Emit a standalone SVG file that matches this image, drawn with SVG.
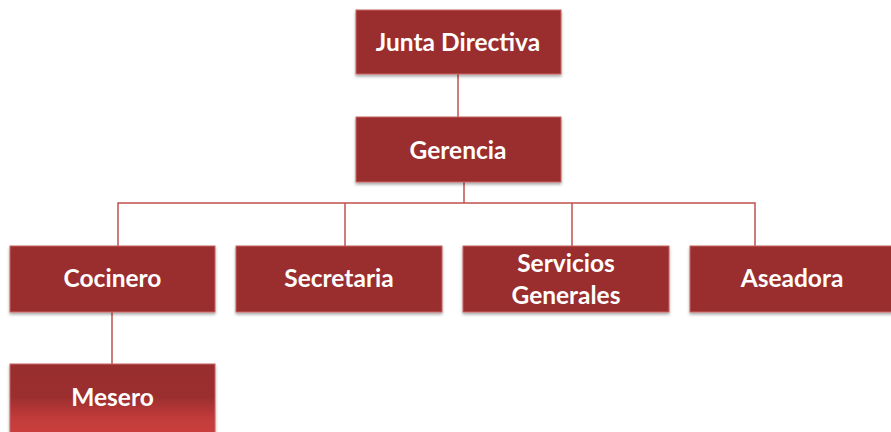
<svg xmlns="http://www.w3.org/2000/svg" width="891" height="432" viewBox="0 0 891 432">
<defs>
<filter id="sh" x="-10%" y="-10%" width="120%" height="130%">
<feDropShadow dx="0" dy="2" stdDeviation="1.5" flood-color="#000" flood-opacity="0.35"/>
</filter>
<linearGradient id="mg" x1="0" y1="0" x2="0" y2="1">
<stop offset="0" stop-color="#992d2d"/>
<stop offset="0.45" stop-color="#9b2e2e"/>
<stop offset="0.75" stop-color="#c23b3b"/>
<stop offset="1" stop-color="#cc3f3f"/>
</linearGradient>
</defs>
<style>
.box{fill:#9a2d2d;stroke:#c86464;stroke-width:1;filter:url(#sh)}
.t{font-family:Lato,"Open Sans",sans-serif;font-weight:700;font-size:24.5px;fill:#fff;text-anchor:middle}
.c{fill:none;stroke:#c0504d;stroke-width:1.5}
</style>
<g id="connectors">
<path class="c" d="M458 74V117"/>
<path class="c" d="M464 182V203"/>
<path class="c" d="M118 246V203H755V246"/>
<path class="c" d="M345 203V246"/>
<path class="c" d="M572 203V246"/>
<path class="c" d="M112 312V364"/>
</g>
<g id="junta"><rect class="box" x="356" y="10" width="205" height="64"/><text class="t" x="458" y="51">Junta Directiva</text></g>
<g id="gerencia"><rect class="box" x="356" y="117" width="205" height="65"/><text class="t" x="458" y="159">Gerencia</text></g>
<g id="cocinero"><rect class="box" x="10" y="246" width="205" height="66"/><text class="t" x="112.5" y="287">Cocinero</text></g>
<g id="secretaria"><rect class="box" x="236" y="246" width="206" height="66"/><text class="t" x="339" y="287">Secretaria</text></g>
<g id="servicios"><rect class="box" x="463" y="246" width="206" height="66"/><text class="t" x="566" y="272">Servicios</text><text class="t" x="566" y="304">Generales</text></g>
<g id="aseadora"><rect class="box" x="690" y="246" width="206" height="66"/><text class="t" x="792" y="287">Aseadora</text></g>
<g id="mesero"><rect class="box" x="10" y="364" width="205" height="72" style="fill:url(#mg)"/><text class="t" x="112.5" y="406">Mesero</text></g>
</svg>
